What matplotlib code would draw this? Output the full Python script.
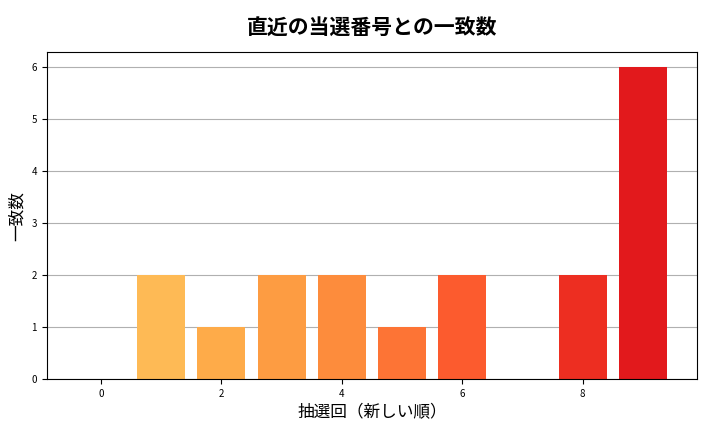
import matplotlib
matplotlib.use("Agg")
import matplotlib.pyplot as plt
import numpy as np

plt.rcParams['font.family'] = 'Noto Sans CJK JP'

draws = list(range(10))
matches = [0, 2, 1, 2, 2, 1, 2, 0, 2, 6]
title = "直近の当選番号との一致数"
xlabel = "抽選回（新しい順）"
ylabel = "一致数"

fig = plt.figure(figsize=(7.2, 4.32), dpi=100)
ax = fig.add_axes([0.065, 0.122, 0.903, 0.758])
colors = plt.cm.YlOrRd(np.linspace(0.3, 0.75, len(draws)))
ax.bar(draws, matches, color=colors, width=0.8, zorder=2)
ax.set_ylim(0, 6.3)
ax.set_xlim(-0.9, 9.9)
ax.set_xticks([0, 2, 4, 6, 8])
ax.set_yticks(range(7))
ax.tick_params(labelsize=7)
ax.yaxis.grid(True, color='#b0b0b0', linewidth=0.8, zorder=0)
ax.set_axisbelow(True)
ax.set_title(title, fontsize=15, fontweight='bold', pad=12)
ax.set_xlabel(xlabel, fontsize=12)
ax.set_ylabel(ylabel, fontsize=12)
fig.savefig("out.png", dpi=100)
